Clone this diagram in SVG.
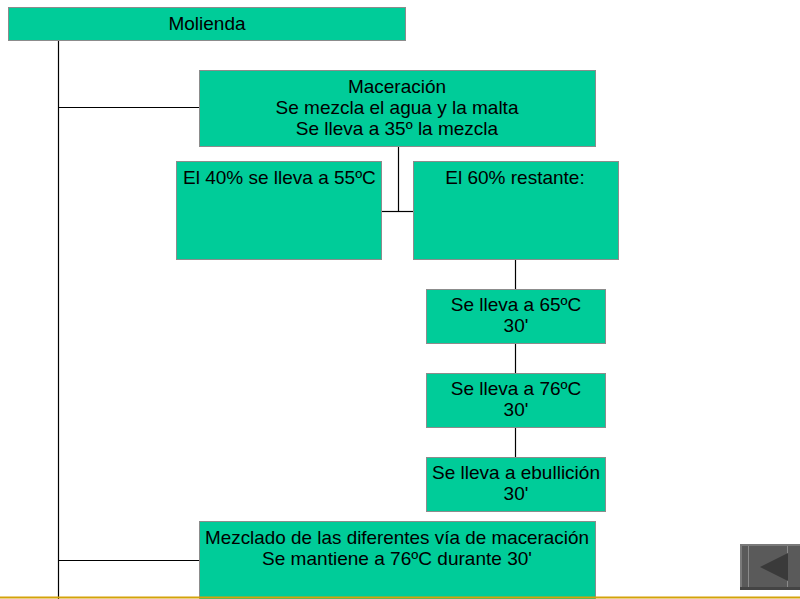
<svg xmlns="http://www.w3.org/2000/svg" width="800" height="599" viewBox="0 0 800 599">
  <style>
    .box { fill: #00CC99; stroke: #8C8C8C; stroke-width: 1; }
    .lbl { font-family: "Liberation Sans", Arial, sans-serif; font-size: 19px; fill: #000; }
    .mid { text-anchor: middle; }
    .wire { stroke: #000; stroke-width: 1.2; fill: none; }
  </style>
  <rect width="800" height="599" fill="#FFFFFF"/>

  <!-- connectors -->
  <g id="connectors">
    <path class="wire" d="M58.5 40 V599"/>
    <path class="wire" d="M58.5 107.5 H199"/>
    <path class="wire" d="M398.5 146 V211.5"/>
    <path class="wire" d="M382 211.5 H413"/>
    <path class="wire" d="M515.5 259 V289"/>
    <path class="wire" d="M515.5 343 V373"/>
    <path class="wire" d="M515.5 427 V457"/>
    <path class="wire" d="M58.5 560.5 H199"/>
  </g>

  <g id="molienda">
    <rect class="box" x="8.5" y="7.5" width="397" height="33"/>
    <text class="lbl mid" x="207" y="30">Molienda</text>
  </g>

  <g id="maceracion">
    <rect class="box" x="199.5" y="70.5" width="396" height="76"/>
    <text class="lbl mid" x="397" y="93">Maceración</text>
    <text class="lbl mid" x="397" y="114">Se mezcla el agua y la malta</text>
    <text class="lbl mid" x="397" y="135">Se lleva a 35º la mezcla</text>
  </g>

  <g id="parte40">
    <rect class="box" x="176.5" y="161.5" width="205" height="98"/>
    <text class="lbl" x="183" y="184">El 40% se lleva a 55ºC</text>
  </g>

  <g id="parte60">
    <rect class="box" x="413.5" y="161.5" width="205" height="98"/>
    <text class="lbl mid" x="515" y="184">El 60% restante:</text>
  </g>

  <g id="paso65">
    <rect class="box" x="426.5" y="289.5" width="179" height="54"/>
    <text class="lbl mid" x="516" y="311">Se lleva a 65ºC</text>
    <text class="lbl mid" x="516" y="332">30'</text>
  </g>

  <g id="paso76">
    <rect class="box" x="426.5" y="373.5" width="179" height="54"/>
    <text class="lbl mid" x="516" y="395">Se lleva a 76ºC</text>
    <text class="lbl mid" x="516" y="416">30'</text>
  </g>

  <g id="ebullicion">
    <rect class="box" x="426.5" y="457.5" width="179" height="54"/>
    <text class="lbl mid" x="516" y="479">Se lleva a ebullición</text>
    <text class="lbl mid" x="516" y="500">30'</text>
  </g>

  <g id="mezclado">
    <rect class="box" x="199.5" y="521.5" width="396" height="80"/>
    <text class="lbl mid" x="397" y="544" textLength="384" lengthAdjust="spacingAndGlyphs">Mezclado de las diferentes vía de maceración</text>
    <text class="lbl mid" x="397" y="565" textLength="270" lengthAdjust="spacingAndGlyphs">Se mantiene a 76ºC durante 30'</text>
  </g>

  <!-- footer rule -->
  <rect x="0" y="596.5" width="800" height="2" fill="#D4A20A"/>

  <!-- back navigation button -->
  <g id="boton-atras">
    <rect x="740" y="544" width="60" height="46" fill="#5A5A5A"/>
    <rect x="740" y="544" width="60" height="2" fill="#7A7A7A"/>
    <rect x="740" y="544" width="2" height="46" fill="#7A7A7A"/>
    <rect x="740" y="587" width="60" height="3" fill="#444444"/>
    <rect x="748" y="546" width="1" height="41" fill="#8A8A8A"/>
    <rect x="787" y="546" width="1" height="41" fill="#8A8A8A"/>
    <polygon points="760,567 788,553 788,581" fill="#3A3A3A"/>
  </g>
</svg>
